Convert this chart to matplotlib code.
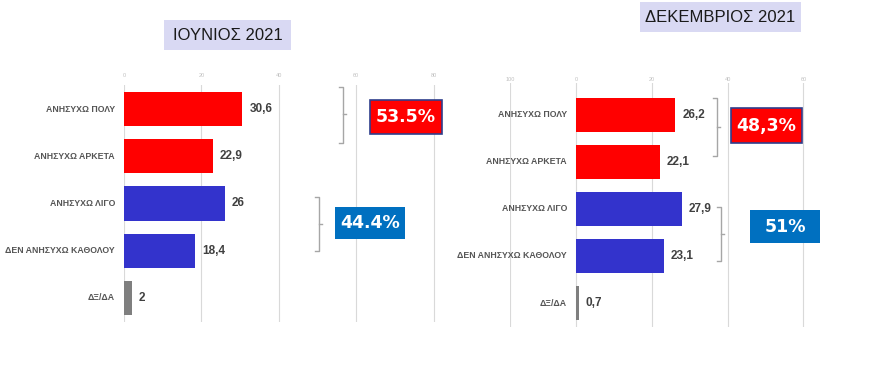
import matplotlib
matplotlib.use("Agg")
import matplotlib.pyplot as plt
from matplotlib.patches import Rectangle
from matplotlib.lines import Line2D

W, H = 869, 386

categories = ["ΑΝΗΣΥΧΩ ΠΟΛΥ", "ΑΝΗΣΥΧΩ ΑΡΚΕΤΑ", "ΑΝΗΣΥΧΩ ΛΙΓΟ",
              "ΔΕΝ ΑΝΗΣΥΧΩ ΚΑΘΟΛΟΥ", "ΔΞ/ΔΑ"]
june_values = [30.6, 22.9, 26, 18.4, 2]
dec_values = [26.2, 22.1, 27.9, 23.1, 0.7]
bar_colors = ["#ff0000", "#ff0000", "#3333cc", "#3333cc", "#7f7f7f"]
june_ticks = [0, 20, 40, 60, 80]
dec_ticks = [-17.4, 0, 20, 40, 60]
dec_tick_labels = ["100", "0", "20", "40", "60"]
titles = ["ΙΟΥΝΙΟΣ 2021", "ΔΕΚΕΜΒΡΙΟΣ 2021"]
june_totals = ["53.5%", "44.4%"]
dec_totals = ["48,3%", "51%"]

FONT = ["Liberation Sans", "DejaVu Sans"]
plt.rcParams["font.family"] = FONT

fig = plt.figure(figsize=(W / 100, H / 100), dpi=100)


def fx(x):
    return x / W


def fy(y):
    return 1 - y / H


def axes_px(left, top, right, bottom):
    return fig.add_axes([fx(left), fy(bottom), (right - left) / W, (bottom - top) / H])


def fmt(v):
    return f"{v:g}".replace(".", ",")


def draw_panel(ax, values, xlim, ylim, ticks, ticklabels, tickpad):
    ax.set_xlim(*xlim)
    ax.set_ylim(*ylim)
    for s in ax.spines.values():
        s.set_visible(False)
    ax.set_yticks([])
    ax.xaxis.tick_top()
    ax.set_xticks(ticks)
    ax.set_xticklabels(ticklabels)
    ax.tick_params(axis="x", length=0, pad=tickpad, labelsize=4, labelcolor="#c0c0c0")
    ax.grid(axis="x", color="#d9d9d9", lw=0.8)
    ax.set_axisbelow(True)
    y = list(range(len(values)))
    ax.barh(y, values, height=0.72, color=bar_colors, zorder=3)
    for i, v in enumerate(values):
        ax.annotate(fmt(v), xy=(v, i), xytext=(5, 0), textcoords="offset points",
                    ha="left", va="center", fontsize=8.5, fontweight="bold",
                    color="#404040")
        ax.annotate(categories[i], xy=(0, i), xytext=(-6.5, 0),
                    textcoords="offset points", ha="right", va="center",
                    fontsize=6.3, fontweight="bold", color="#555555",
                    annotation_clip=False)


# left panel
axL = axes_px(124, 85.4, 124 + 82 * 3.87, 321.6)
draw_panel(axL, june_values, (0, 82), (4.5, -0.5), june_ticks,
           [str(t) for t in june_ticks], 5)

# right panel
axR = axes_px(510, 83, 576 + 62 * 3.79, 326.6)
draw_panel(axR, dec_values, (-17.4, 62), (4.5, -0.67), dec_ticks,
           dec_tick_labels, 1)


def box(x0, y0, x1, y1, text, fc, ec=None, fs=13, color="white", weight="bold",
        family=None):
    r = Rectangle((fx(x0), fy(y1)), (x1 - x0) / W, (y1 - y0) / H,
                  transform=fig.transFigure, facecolor=fc,
                  edgecolor=ec if ec else "none", lw=1.2 if ec else 0)
    fig.patches.append(r)
    fig.text(fx((x0 + x1) / 2), fy((y0 + y1) / 2), text, ha="center", va="center",
             fontsize=fs, color=color, fontweight=weight,
             family=family if family else FONT)


# titles
box(164, 20, 291, 50, titles[0], "#d9d9f3", fs=12, color="#1a1a1a",
    weight="normal")
box(640, 2, 801, 32, titles[1], "#d9d9f3", fs=12, color="#1a1a1a",
    weight="normal")

# total boxes
box(370, 100, 442, 134, june_totals[0], "#ff0000", ec="#2f3e8c", fs=12.5,
    family=["DejaVu Sans"])
box(335, 207, 405, 239, june_totals[1], "#0070c0", fs=12.5,
    family=["DejaVu Sans"])
box(731, 108, 802, 143, dec_totals[0], "#ff0000", ec="#2f3e8c", fs=12.5,
    family=["DejaVu Sans"])
box(750, 210, 820, 243, dec_totals[1], "#0070c0", fs=12.5,
    family=["DejaVu Sans"])


def bracket(x, y0, y1, ym):
    c = "#a6a6a6"
    pts = [([x - 4, x, x, x - 4], [y0, y0, y1, y1]), ([x, x + 3], [ym, ym])]
    for xs, ys in pts:
        fig.lines.append(Line2D([fx(v) for v in xs], [fy(v) for v in ys],
                                transform=fig.transFigure, color=c, lw=1))


bracket(343, 87, 143, 114)
bracket(319, 197, 251, 224)
bracket(717, 98, 156, 127)
bracket(721, 207, 261, 234)

fig.savefig("out.png", dpi=100)
